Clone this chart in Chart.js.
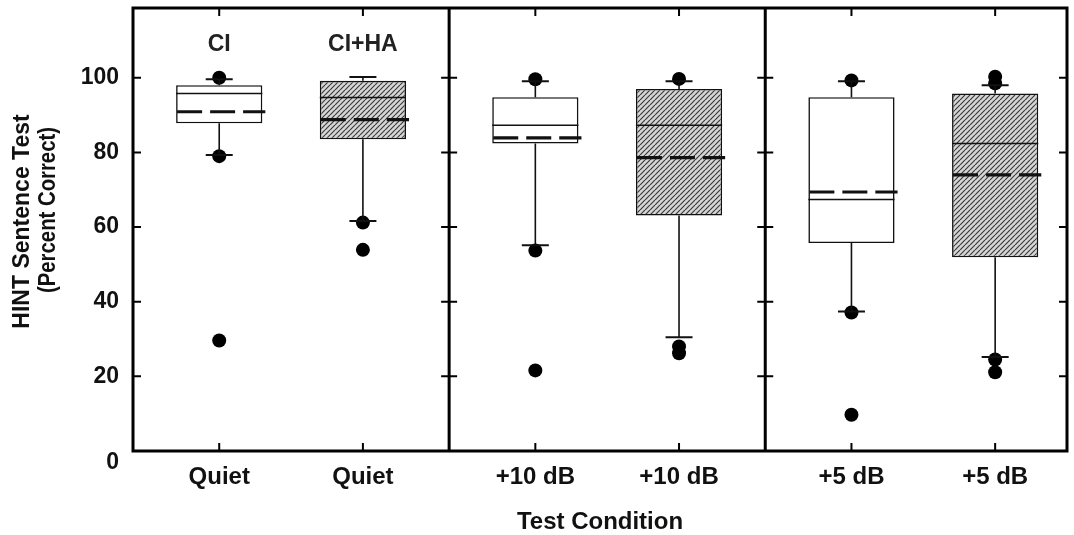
<!DOCTYPE html>
<html>
<head>
<meta charset="utf-8">
<script src="https://cdn.jsdelivr.net/npm/chart.js@4.4.1/dist/chart.umd.min.js"></script>
<style>
  html, body { margin: 0; padding: 0; background: #fff; }
  #wrap { width: 1074px; height: 535px; }
</style>
</head>
<body>
<div id="wrap"><canvas id="c" width="1074" height="535"></canvas></div>
<script>
// HINT sentence scores (percent correct) by listening condition and device
const conditions  = ['Quiet', 'Quiet', '+10 dB', '+10 dB', '+5 dB', '+5 dB'];
const positions   = [1, 2, 3.2, 4.2, 5.4, 6.4];
const devices     = ['CI', 'CI+HA', 'CI', 'CI+HA', 'CI', 'CI+HA'];
const deviceHeadings = ['CI', 'CI+HA'];      // printed above the first pair
const headingLevel   = 109;

const q1          = [87.8, 83.5, 82.4, 63.1, 55.7, 51.9];
const q3          = [98.0, 99.2, 94.8, 97.0, 94.8, 95.8];
const medians     = [95.8, 94.7, 87.3, 87.3, 67.4, 82.4];
const means       = [90.9, 88.8, 83.9, 78.6, 69.4, 74.0];
const whiskerLow  = [79.3, 61.6, 55.1, 30.5, 37.4, 25.2];
const whiskerHigh = [99.6, 100.2, 99.1, 99.1, 99.1, 98.0];
const extremes    = [
  [100, 79, 29.6],
  [61.2, 53.9],
  [99.6, 53.7, 21.6],
  [99.7, 28.0, 26.2],
  [99.3, 37.1, 9.7],
  [100.3, 98.5, 24.5, 21.1]
];

const yTicks         = [0, 20, 40, 60, 80, 100];
const groupDividers  = [2.6, 4.8];
const xRange         = [0.4, 6.9];
const yRange         = [0, 118.7];

const FONT = '"Liberation Sans", Arial, Helvetica, sans-serif';
const INK = '#111';

const canvas = document.getElementById('c');
const ctx0 = canvas.getContext('2d');

// diagonal hatching for the CI+HA boxes
function makeHatch() {
  const s = 5;
  const t = document.createElement('canvas');
  t.width = s; t.height = s;
  const g = t.getContext('2d');
  g.fillStyle = '#d6d6d6';
  g.fillRect(0, 0, s, s);
  g.strokeStyle = '#3a3a3a';
  g.lineWidth = 1.2;
  g.beginPath();
  for (const o of [-s, 0, s]) { g.moveTo(o, s); g.lineTo(o + s, 0); }
  g.stroke();
  return ctx0.createPattern(t, 'repeat');
}
const hatch = makeHatch();

const boxData = positions.map((x, i) => ({ x: x, y: [q1[i], q3[i]] }));
const dotData = [];
extremes.forEach((vals, i) => vals.forEach(v => dotData.push({ x: positions[i], y: v })));

// whiskers, caps, medians, means, frame and headings
const boxDecor = {
  id: 'boxDecor',
  afterDatasetsDraw(chart) {
    const { ctx, chartArea: a, scales: { x, y } } = chart;
    const bars = chart.getDatasetMeta(0).data;
    ctx.save();
    ctx.strokeStyle = INK;
    ctx.lineCap = 'butt';

    positions.forEach((p, i) => {
      const bar = bars[i];
      const cx = bar.x;
      const left = bar.x - bar.width / 2;
      const right = bar.x + bar.width / 2;
      const capHalf = 13.5;

      // whiskers
      ctx.setLineDash([]);
      ctx.lineWidth = 1.6;
      ctx.beginPath();
      ctx.moveTo(cx, y.getPixelForValue(q1[i]));
      ctx.lineTo(cx, y.getPixelForValue(whiskerLow[i]));
      ctx.moveTo(cx, y.getPixelForValue(q3[i]));
      ctx.lineTo(cx, y.getPixelForValue(whiskerHigh[i]));
      ctx.stroke();

      ctx.lineWidth = 2;
      ctx.beginPath();
      for (const w of [whiskerLow[i], whiskerHigh[i]]) {
        const py = y.getPixelForValue(w);
        ctx.moveTo(cx - capHalf, py);
        ctx.lineTo(cx + capHalf, py);
      }
      ctx.stroke();

      // median
      ctx.lineWidth = 1.6;
      ctx.beginPath();
      const my = y.getPixelForValue(medians[i]);
      ctx.moveTo(left, my);
      ctx.lineTo(right, my);
      ctx.stroke();

      // mean
      ctx.lineWidth = 3.2;
      ctx.setLineDash([25, 8]);
      ctx.lineDashOffset = 0;
      ctx.beginPath();
      const ay = y.getPixelForValue(means[i]);
      ctx.moveTo(left + 1, ay);
      ctx.lineTo(right + 3, ay);
      ctx.stroke();
      ctx.setLineDash([]);
    });

    // frame and group dividers
    ctx.lineWidth = 3;
    ctx.strokeStyle = '#000';
    ctx.strokeRect(a.left, a.top, a.right - a.left, a.bottom - a.top);
    ctx.beginPath();
    groupDividers.forEach(d => {
      const px = x.getPixelForValue(d);
      ctx.moveTo(px, a.top);
      ctx.lineTo(px, a.bottom);
    });
    ctx.stroke();

    // inward tick marks
    const tl = 8;
    ctx.lineWidth = 2;
    ctx.beginPath();
    yTicks.forEach(v => {
      if (v === 0) return;
      const py = y.getPixelForValue(v);
      ctx.moveTo(a.left, py); ctx.lineTo(a.left + tl, py);
      ctx.moveTo(a.right, py); ctx.lineTo(a.right - tl, py);
      groupDividers.forEach(d => {
        const px = x.getPixelForValue(d);
        ctx.moveTo(px - tl, py); ctx.lineTo(px + tl, py);
      });
    });
    positions.forEach(p => {
      const px = x.getPixelForValue(p);
      ctx.moveTo(px, a.top); ctx.lineTo(px, a.top + tl);
      ctx.moveTo(px, a.bottom); ctx.lineTo(px, a.bottom - tl);
    });
    ctx.stroke();

    // device headings over the first pair
    ctx.fillStyle = '#222';
    ctx.font = 'bold 23px ' + FONT;
    ctx.textAlign = 'center';
    ctx.textBaseline = 'middle';
    deviceHeadings.forEach((t, i) => {
      ctx.fillText(t, x.getPixelForValue(positions[i]), y.getPixelForValue(headingLevel));
    });

    // y-axis title (two lines)
    ctx.fillStyle = INK;
    ctx.save();
    ctx.translate(23, 221.5);
    ctx.rotate(-Math.PI / 2);
    ctx.fillText('HINT Sentence Test', 0, 0);
    ctx.restore();
    ctx.save();
    ctx.translate(49, 210);
    ctx.rotate(-Math.PI / 2);
    ctx.fillText('(Percent Correct)', 0, 0, 166);
    ctx.restore();

    ctx.restore();
  }
};

function noPad(s) {
  s.paddingTop = 0; s.paddingBottom = 0; s.paddingLeft = 0; s.paddingRight = 0;
}

new Chart(canvas, {
  type: 'bar',
  data: {
    datasets: [
      {
        type: 'bar',
        data: boxData,
        backgroundColor: c => devices[c.dataIndex] === 'CI' ? '#ffffff' : hatch,
        borderColor: INK,
        borderWidth: 1.6,
        borderSkipped: false,
        barPercentage: 0.6,
        categoryPercentage: 1.0,
        order: 2
      },
      {
        type: 'scatter',
        data: dotData,
        pointRadius: 7,
        pointHoverRadius: 7,
        pointBackgroundColor: '#000',
        pointBorderWidth: 0,
        order: 1
      }
    ]
  },
  options: {
    responsive: false,
    devicePixelRatio: 1,
    animation: false,
    layout: { padding: { top: 8, right: 2, bottom: 0, left: 0 } },
    plugins: {
      legend: { display: false },
      tooltip: { enabled: false }
    },
    scales: {
      x: {
        type: 'linear',
        offset: false,
        min: xRange[0],
        max: xRange[1],
        grid: { display: false, drawTicks: false, offset: false },
        border: { display: false },
        afterBuildTicks: s => { s.ticks = positions.map(v => ({ value: v })); },
        afterFit: s => { s.height = 84; noPad(s); },
        ticks: {
          autoSkip: false,
          maxRotation: 0,
          padding: 12,
          color: INK,
          font: { family: FONT, size: 24, weight: 'bold' },
          callback: (v, i) => conditions[i]
        },
        title: {
          display: true,
          text: 'Test Condition',
          color: INK,
          font: { family: FONT, size: 24, weight: 'bold', lineHeight: 1 },
          padding: { top: 0, bottom: 1 }
        }
      },
      y: {
        type: 'linear',
        min: yRange[0],
        max: yRange[1],
        grid: { display: false, drawTicks: false },
        border: { display: false },
        afterBuildTicks: s => { s.ticks = yTicks.map(v => ({ value: v })); },
        afterFit: s => { s.width = 133; noPad(s); },
        ticks: {
          padding: 14,
          color: INK,
          font: { family: FONT, size: 23, weight: 'bold', lineHeight: 1 },
          callback: v => v === 0 ? ['', '0'] : String(v)
        }
      }
    }
  },
  plugins: [boxDecor]
});
</script>
</body>
</html>
